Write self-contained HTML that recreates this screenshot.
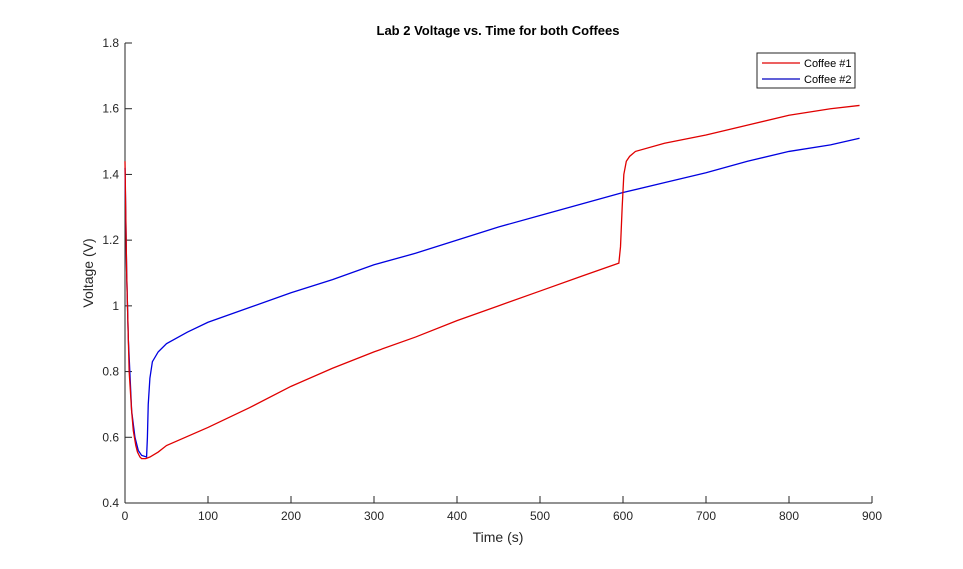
<!DOCTYPE html>
<html><head><meta charset="utf-8"><style>
body{margin:0;background:#fff;font-family:"Liberation Sans",sans-serif}
svg text{font-family:"Liberation Sans",sans-serif}
</style></head><body>
<svg id="chart" width="963" height="564" xmlns="http://www.w3.org/2000/svg">
<rect width="963" height="564" fill="#fff"/>
<text x="498" y="35" text-anchor="middle" font-size="13" font-weight="bold" fill="#000">Lab 2 Voltage vs. Time for both Coffees</text>
<g id="axes"></g>
<g id="series"></g>
<text x="498" y="542" text-anchor="middle" font-size="14" fill="#262626">Time (s)</text>
<text transform="translate(93,273) rotate(-90)" text-anchor="middle" font-size="14" fill="#262626">Voltage (V)</text>
<g>
<rect x="757" y="53" width="98" height="35" fill="#fff" stroke="#262626" stroke-width="1"/>
<line x1="762" y1="63" x2="800" y2="63" stroke="#e00000" stroke-width="1.2"/>
<text x="804" y="67" font-size="11" fill="#000">Coffee #1</text>
<line x1="762" y1="79" x2="800" y2="79" stroke="#0000c0" stroke-width="1.2"/>
<text x="804" y="83" font-size="11" fill="#000">Coffee #2</text>
</g>
</svg>
<script>
const xTicks=[0,100,200,300,400,500,600,700,800,900];
const yTicks=[0.4,0.6,0.8,1,1.2,1.4,1.6,1.8];
const yTickLabels=["0.4","0.6","0.8","1","1.2","1.4","1.6","1.8"];
const t1=[0,2,5,8,10,13,15,18,20,25,30,40,50,100,150,200,250,300,350,400,450,500,550,595,597,599,601,604,608,615,650,700,750,800,850,885];
const v1=[1.44,1.1,0.8,0.68,0.62,0.575,0.555,0.54,0.535,0.535,0.54,0.555,0.575,0.63,0.69,0.755,0.81,0.86,0.905,0.955,1.0,1.045,1.09,1.13,1.18,1.3,1.4,1.44,1.455,1.47,1.495,1.52,1.55,1.58,1.6,1.61];
const t2=[0,2,4,8,12,16,20,26,27,28,30,33,40,50,75,100,150,200,250,300,350,400,450,500,550,600,650,700,750,800,850,885];
const v2=[1.42,1.1,0.9,0.68,0.6,0.56,0.545,0.54,0.6,0.7,0.78,0.83,0.86,0.885,0.92,0.95,0.995,1.04,1.08,1.125,1.16,1.2,1.24,1.275,1.31,1.345,1.375,1.405,1.44,1.47,1.49,1.51];
const L=125,R=872,T=43,B=503;
const xs=t=>L+(R-L)*t/900;
const ys=v=>B-(B-T)*(v-0.4)/1.4;
const NS="http://www.w3.org/2000/svg";
const ax=document.getElementById('axes');
function mk(tag,attrs,parent){const e=document.createElementNS(NS,tag);for(const k in attrs)e.setAttribute(k,attrs[k]);parent.appendChild(e);return e;}
const xl=mk('line',{x1:L,y1:B,x2:R,y2:B,stroke:'#262626'},ax);


const yl=mk('line',{x1:L,y1:T,x2:L,y2:B,stroke:'#262626'},ax);


xTicks.forEach(t=>{
  mk('line',{x1:xs(t),y1:B,x2:xs(t),y2:B-7,stroke:'#262626'},ax);
  const tx=mk('text',{x:xs(t),y:B+17,'text-anchor':'middle','font-size':12,fill:'#262626'},ax);
  tx.textContent=t;
  
  
});
yTicks.forEach((v,i)=>{
  mk('line',{x1:L,y1:ys(v),x2:L+7,y2:ys(v),stroke:'#262626'},ax);
  const tx=mk('text',{x:L-6,y:ys(v)+4,'text-anchor':'end','font-size':12,fill:'#262626'},ax);
  tx.textContent=yTickLabels[i];
  
  
});
const sg=document.getElementById('series');
function line(ts,vs,c,name){
  const p=mk('polyline',{points:ts.map((t,i)=>xs(t)+','+ys(vs[i])).join(' '),fill:'none',stroke:c,'stroke-width':1.3},sg);
  
  
}
line(t2,v2,'#0000e0','coffee-2-line');
line(t1,v1,'#e00000','coffee-1-line');
</script>
</body></html>
